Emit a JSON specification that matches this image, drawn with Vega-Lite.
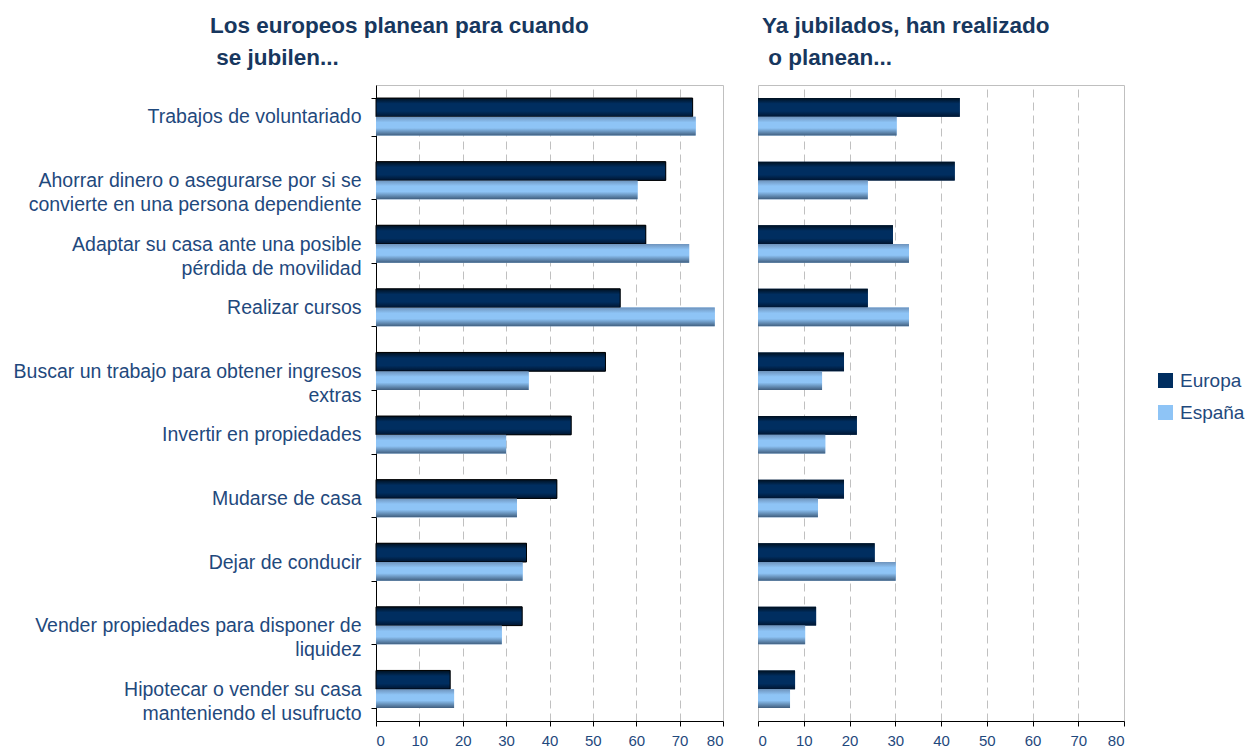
{
  "$schema": "https://vega.github.io/schema/vega-lite/v6.json",
  "padding": {"left": 12, "top": 14, "right": 0, "bottom": 0},
  "background": "white",
  "bounds": "flush",
  "spacing": 35,
  "config": {
    "font": "Liberation Sans",
    "view": {"stroke": "#BFBFBF", "strokeWidth": 1}
  },
  "data": {
    "values": [
      {"actividad": "Trabajos de voluntariado", "serie": "Europa", "planean": 73.0, "jubilados": 44.1},
      {"actividad": "Trabajos de voluntariado", "serie": "España", "planean": 73.7, "jubilados": 30.3},
      {"actividad": "Ahorrar dinero o asegurarse por si se\nconvierte en una persona dependiente", "serie": "Europa", "planean": 66.8, "jubilados": 43.0},
      {"actividad": "Ahorrar dinero o asegurarse por si se\nconvierte en una persona dependiente", "serie": "España", "planean": 60.3, "jubilados": 24.0},
      {"actividad": "Adaptar su casa ante una posible\npérdida de movilidad", "serie": "Europa", "planean": 62.2, "jubilados": 29.5},
      {"actividad": "Adaptar su casa ante una posible\npérdida de movilidad", "serie": "España", "planean": 72.2, "jubilados": 33.0},
      {"actividad": "Realizar cursos", "serie": "Europa", "planean": 56.3, "jubilados": 24.0},
      {"actividad": "Realizar cursos", "serie": "España", "planean": 78.1, "jubilados": 33.0},
      {"actividad": "Buscar un trabajo para obtener ingresos\nextras", "serie": "Europa", "planean": 52.9, "jubilados": 18.8},
      {"actividad": "Buscar un trabajo para obtener ingresos\nextras", "serie": "España", "planean": 35.2, "jubilados": 14.0},
      {"actividad": "Invertir en propiedades", "serie": "Europa", "planean": 45.0, "jubilados": 21.6},
      {"actividad": "Invertir en propiedades", "serie": "España", "planean": 30.0, "jubilados": 14.7},
      {"actividad": "Mudarse de casa", "serie": "Europa", "planean": 41.7, "jubilados": 18.8},
      {"actividad": "Mudarse de casa", "serie": "España", "planean": 32.5, "jubilados": 13.1},
      {"actividad": "Dejar de conducir", "serie": "Europa", "planean": 34.7, "jubilados": 25.5},
      {"actividad": "Dejar de conducir", "serie": "España", "planean": 33.8, "jubilados": 30.1},
      {"actividad": "Vender propiedades para disponer de\nliquidez", "serie": "Europa", "planean": 33.7, "jubilados": 12.7},
      {"actividad": "Vender propiedades para disponer de\nliquidez", "serie": "España", "planean": 29.0, "jubilados": 10.3},
      {"actividad": "Hipotecar o vender su casa\nmanteniendo el usufructo", "serie": "Europa", "planean": 17.1, "jubilados": 8.1},
      {"actividad": "Hipotecar o vender su casa\nmanteniendo el usufructo", "serie": "España", "planean": 18.0, "jubilados": 7.0}
    ]
  },
  "hconcat": [
    {
      "width": 347,
      "height": 636,
      "title": {
        "text": ["Los europeos planean para cuando", "\u200b\u00a0se jubilen..."],
        "anchor": "start",
        "frame": "group",
        "dx": -166,
        "fontSize": 22.5,
        "fontWeight": "bold",
        "color": "#17375E",
        "lineHeight": 32,
        "offset": 6
      },
      "encoding": {
        "y": {
          "field": "actividad",
          "type": "nominal",
          "sort": null,
          "scale": {"paddingInner": 0.41, "paddingOuter": 0.205},
          "axis": {
            "title": null,
            "labelExpr": "split(datum.label, '\\n')",
            "labelFontSize": 19.5,
            "labelColor": "#1F497D",
            "labelLineHeight": 24,
            "labelLimit": 0,
            "labelPadding": 10,
            "tickBand": "extent",
            "tickSize": 5,
            "tickColor": "#000000",
            "domainColor": "#000000",
            "grid": false
          }
        },
        "yOffset": {"field": "serie", "type": "nominal", "sort": ["Europa", "España"], "scale": {"paddingInner": 0, "paddingOuter": 0}},
        "x": {
          "field": "planean",
          "type": "quantitative",
          "scale": {"domain": [0, 80]},
          "axis": {
            "title": null,
            "values": [0, 10, 20, 30, 40, 50, 60, 70, 80],
            "labelFontSize": 15,
            "labelColor": "#1F497D",
            "labelPadding": 7,
            "tickSize": 5,
            "tickColor": "#000000",
            "domainColor": "#000000",
            "grid": true,
            "gridColor": "#C0C0C0",
            "gridDash": [8, 5]
          }
        }
      },
      "layer": [
        {
          "mark": {"type": "bar"},
          "encoding": {
            "color": {
              "field": "serie",
              "type": "nominal",
              "scale": {"domain": ["Europa", "España"], "range": ["#002E60", "#8EC4F6"]},
              "legend": null
            }
          }
        },
        {
          "transform": [{"filter": "datum.serie === 'Europa'"}],
          "mark": {
            "type": "bar",
            "stroke": "#000000",
            "strokeWidth": 1,
            "color": {"gradient": "linear", "x1": 0, "y1": 0, "x2": 0, "y2": 1, "stops": [{"offset": 0, "color": "#00101F"}, {"offset": 0.3, "color": "#002E60"}, {"offset": 0.7, "color": "#002E60"}, {"offset": 1, "color": "#001530"}]}
          }
        },
        {
          "transform": [{"filter": "datum.serie === 'España'"}],
          "mark": {
            "type": "bar",
            "color": {"gradient": "linear", "x1": 0, "y1": 0, "x2": 0, "y2": 1, "stops": [{"offset": 0, "color": "#6E93BC"}, {"offset": 0.3, "color": "#8EC4F6"}, {"offset": 0.6, "color": "#8EC4F6"}, {"offset": 1, "color": "#405E7E"}]}
          }
        }
      ]
    },
    {
      "width": 366,
      "height": 636,
      "title": {
        "text": ["Ya jubilados, han realizado", "\u200b\u00a0o planean..."],
        "anchor": "start",
        "frame": "group",
        "dx": 4,
        "fontSize": 22.5,
        "fontWeight": "bold",
        "color": "#17375E",
        "lineHeight": 32,
        "offset": 16
      },
      "encoding": {
        "y": {
          "field": "actividad",
          "type": "nominal",
          "sort": null,
          "scale": {"paddingInner": 0.41, "paddingOuter": 0.205},
          "axis": null
        },
        "yOffset": {"field": "serie", "type": "nominal", "sort": ["Europa", "España"], "scale": {"paddingInner": 0, "paddingOuter": 0}},
        "x": {
          "field": "jubilados",
          "type": "quantitative",
          "scale": {"domain": [0, 80]},
          "axis": {
            "title": null,
            "values": [0, 10, 20, 30, 40, 50, 60, 70, 80],
            "labelFontSize": 15,
            "labelColor": "#1F497D",
            "labelPadding": 7,
            "tickSize": 5,
            "tickColor": "#000000",
            "domainColor": "#000000",
            "grid": true,
            "gridColor": "#C0C0C0",
            "gridDash": [8, 5]
          }
        }
      },
      "layer": [
        {
          "mark": {"type": "bar"},
          "encoding": {
            "color": {
              "field": "serie",
              "type": "nominal",
              "scale": {"domain": ["Europa", "España"], "range": ["#002E60", "#8EC4F6"]},
              "legend": {
                "title": null,
                "orient": "none",
                "legendX": 398,
                "legendY": 286,
                "symbolType": "square",
                "symbolSize": 225,
                "labelFontSize": 19,
                "labelColor": "#1F497D",
                "labelOffset": 5,
                "rowPadding": 12
              }
            }
          }
        },
        {
          "transform": [{"filter": "datum.serie === 'Europa'"}],
          "mark": {
            "type": "bar",
            "color": {"gradient": "linear", "x1": 0, "y1": 0, "x2": 0, "y2": 1, "stops": [{"offset": 0, "color": "#00101F"}, {"offset": 0.3, "color": "#002E60"}, {"offset": 0.7, "color": "#002E60"}, {"offset": 1, "color": "#001530"}]}
          }
        },
        {
          "transform": [{"filter": "datum.serie === 'España'"}],
          "mark": {
            "type": "bar",
            "color": {"gradient": "linear", "x1": 0, "y1": 0, "x2": 0, "y2": 1, "stops": [{"offset": 0, "color": "#6E93BC"}, {"offset": 0.3, "color": "#8EC4F6"}, {"offset": 0.6, "color": "#8EC4F6"}, {"offset": 1, "color": "#405E7E"}]}
          }
        }
      ]
    }
  ],
  "resolve": {"legend": {"color": "independent"}}
}
